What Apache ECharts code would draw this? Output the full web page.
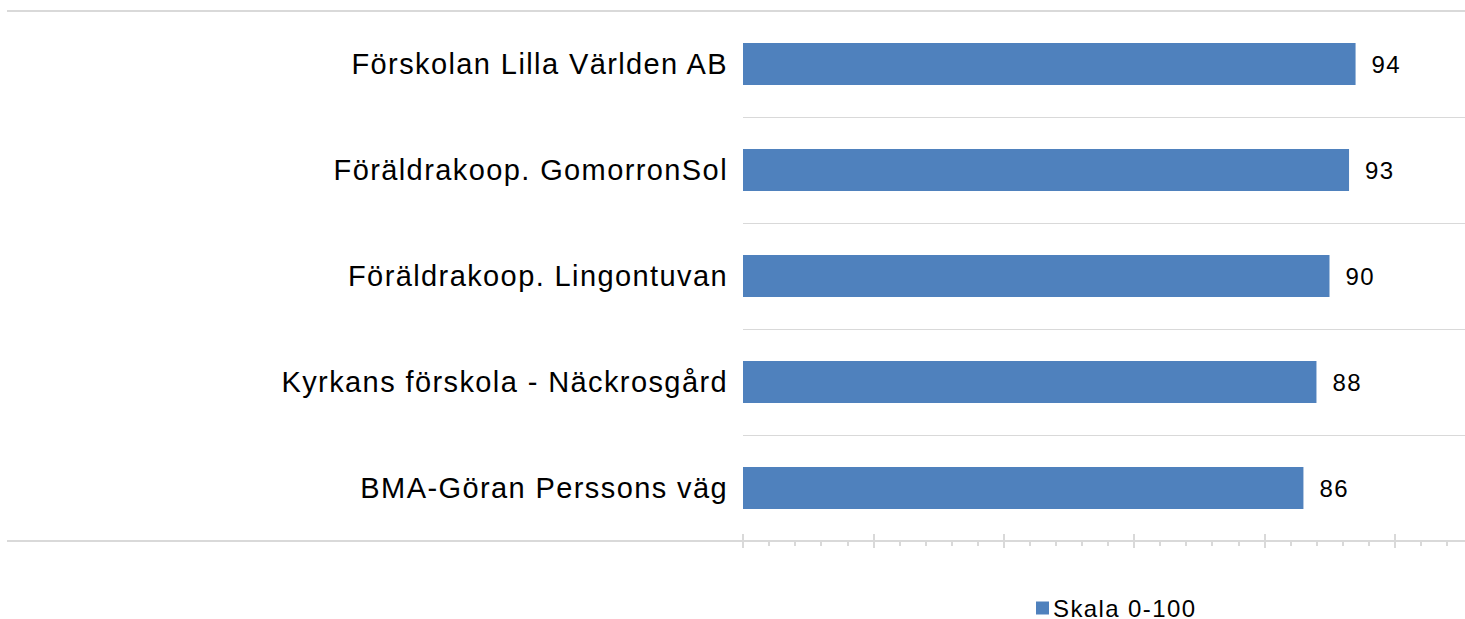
<!DOCTYPE html>
<html>
<head>
<meta charset="utf-8">
<title>Skala 0-100</title>
<style>
    html, body{
        margin:0;
        padding:0;
        background:#fff;
    }
    #chart-block{
        width:1465px;
        height:619px;
    }
    /* the original text is set a little wider than plain Arial */
    #chart-block text{
        letter-spacing: 1.4px;
    }
</style>
<script src="https://cdn.jsdelivr.net/npm/echarts@6/dist/echarts.min.js"></script>
</head>
<body>
<div id="chart-block"></div>
<script>
    // data
    var categories = [
        'Förskolan Lilla Världen AB',
        'Föräldrakoop. GomorronSol',
        'Föräldrakoop. Lingontuvan',
        'Kyrkans förskola - Näckrosgård',
        'BMA-Göran Perssons väg'
    ];
    var values = [94, 93, 90, 88, 86];
    var seriesName = 'Skala 0-100';
    var axisMin = 0;
    var axisMax = 120;
    var axisStep = 20;

    var font = 'Liberation Sans, Arial, sans-serif';
    var lineColor = '#d9d9d9';

    // svg so the css letter-spacing reaches the texts
    var myChart = echarts.init(document.getElementById('chart-block'), null, { renderer: 'svg' });

    var option = {
        backgroundColor: '#fff',
        animation: false,
        textStyle: {
            fontFamily: font
        },
        grid: {
            left: 743,
            top: 11,
            width: 782,
            height: 530,
            containLabel: false,
            outerBoundsMode: 'none'
        },
        legend: {
            data: [seriesName],
            left: 1036,
            top: 596,
            padding: 0,
            icon: 'rect',
            itemWidth: 13,
            itemHeight: 13,
            itemGap: 5,
            textStyle: {
                fontFamily: font,
                fontSize: 24,
                color: '#000',
                padding: [0, 0, 0, -1]
            }
        },
        xAxis: [
            {
                type: 'value',
                min: axisMin,
                max: axisMax,
                interval: axisStep,
                axisLine: {
                    show: true,
                    lineStyle: { color: lineColor, width: 2 }
                },
                axisTick: {
                    show: true,
                    length: 7,
                    lineStyle: { color: lineColor, width: 2 }
                },
                minorTick: {
                    show: true,
                    splitNumber: 5,
                    length: 5,
                    lineStyle: { color: lineColor, width: 2 }
                },
                axisLabel: { show: false },
                splitLine: { show: false }
            },
            {
                // ticks that go up through the axis line
                type: 'value',
                position: 'bottom',
                min: axisMin,
                max: axisMax,
                interval: axisStep,
                axisLine: { show: false },
                axisTick: {
                    show: true,
                    inside: true,
                    length: 7,
                    lineStyle: { color: lineColor, width: 2 }
                },
                axisLabel: { show: false },
                splitLine: { show: false }
            }
        ],
        yAxis: {
            type: 'category',
            inverse: true,
            data: categories,
            axisLine: { show: false },
            axisTick: { show: false },
            axisLabel: {
                fontFamily: font,
                fontSize: 29,
                color: '#000',
                margin: 15
            },
            splitLine: {
                show: true,
                lineStyle: { color: lineColor, width: 1 }
            }
        },
        series: [
            {
                name: seriesName,
                type: 'bar',
                xAxisIndex: 0,
                data: values,
                barWidth: 42,
                itemStyle: {
                    color: '#4f81bd'
                },
                label: {
                    show: true,
                    position: 'right',
                    distance: 16,
                    fontFamily: font,
                    fontSize: 24,
                    color: '#000'
                }
            }
        ],
        // outer lines of the original frame
        graphic: [
            {
                type: 'line',
                shape: { x1: 7, y1: 11, x2: 1465, y2: 11 },
                style: { stroke: lineColor, lineWidth: 2 }
            },
            {
                type: 'line',
                shape: { x1: 7, y1: 541, x2: 744, y2: 541 },
                style: { stroke: lineColor, lineWidth: 2 }
            }
        ]
    };

    myChart.setOption(option);
</script>
</body>
</html>
